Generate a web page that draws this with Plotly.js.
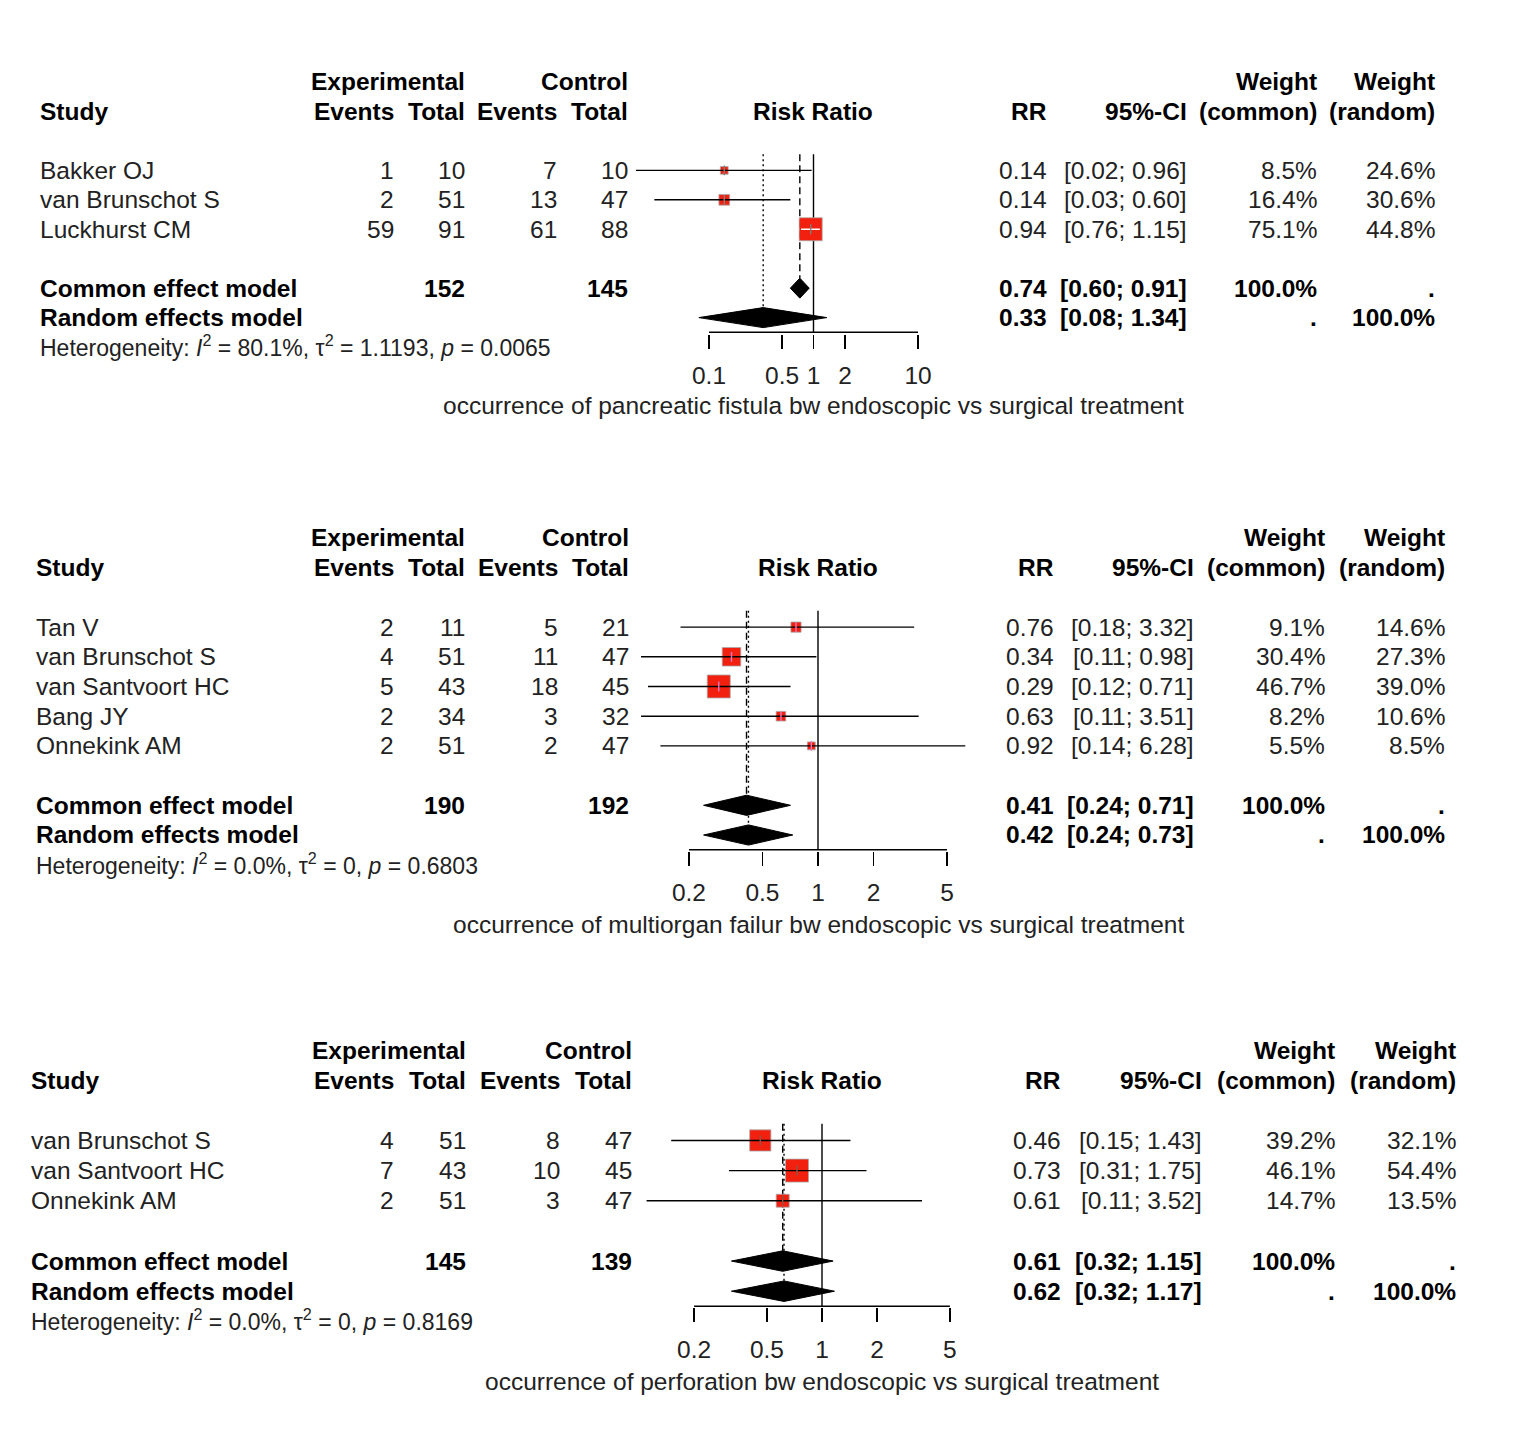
<!DOCTYPE html>
<html>
<head>
<meta charset="utf-8">
<script src="https://cdn.plot.ly/plotly-3.0.1.min.js"></script>
<style>
html,body{margin:0;padding:0;background:#fff;}
#chart{width:1519px;height:1444px;}
</style>
</head>
<body>
<div id="chart"></div>
<script>
// ---------------- DATA ----------------
// Panel 1: pancreatic fistula
const p1Studies = ['Bakker OJ', 'van Brunschot S', 'Luckhurst CM'];
const p1ExpEvents = [1, 2, 59];
const p1ExpTotal = [10, 51, 91];
const p1CtrlEvents = [7, 13, 61];
const p1CtrlTotal = [10, 47, 88];
const p1RR = [0.14, 0.14, 0.94];
const p1Lower = [0.02, 0.03, 0.76];
const p1Upper = [0.96, 0.60, 1.15];
const p1WCommon = [8.5, 16.4, 75.1];
const p1WRandom = [24.6, 30.6, 44.8];
const p1Common = [0.74, 0.60, 0.91];
const p1Random = [0.33, 0.08, 1.34];
const p1Totals = [152, 145];
const p1Het = [80.1, '1.1193', '0.0065'];
const p1Ticks = [0.1, 0.5, 1, 2, 10];
const p1TickText = ['0.1', '0.5', '1', '2', '10'];
const p1Title = 'occurrence of pancreatic fistula bw endoscopic vs surgical treatment';

// Panel 2: multiorgan failure
const p2Studies = ['Tan V', 'van Brunschot S', 'van Santvoort HC', 'Bang JY', 'Onnekink AM'];
const p2ExpEvents = [2, 4, 5, 2, 2];
const p2ExpTotal = [11, 51, 43, 34, 51];
const p2CtrlEvents = [5, 11, 18, 3, 2];
const p2CtrlTotal = [21, 47, 45, 32, 47];
const p2RR = [0.76, 0.34, 0.29, 0.63, 0.92];
const p2Lower = [0.18, 0.11, 0.12, 0.11, 0.14];
const p2Upper = [3.32, 0.98, 0.71, 3.51, 6.28];
const p2WCommon = [9.1, 30.4, 46.7, 8.2, 5.5];
const p2WRandom = [14.6, 27.3, 39.0, 10.6, 8.5];
const p2Common = [0.41, 0.24, 0.71];
const p2Random = [0.42, 0.24, 0.73];
const p2Totals = [190, 192];
const p2Het = [0.0, '0', '0.6803'];
const p2Ticks = [0.2, 0.5, 1, 2, 5];
const p2TickText = ['0.2', '0.5', '1', '2', '5'];
const p2Title = 'occurrence of multiorgan failur bw endoscopic vs surgical treatment';

// Panel 3: perforation
const p3Studies = ['van Brunschot S', 'van Santvoort HC', 'Onnekink AM'];
const p3ExpEvents = [4, 7, 2];
const p3ExpTotal = [51, 43, 51];
const p3CtrlEvents = [8, 10, 3];
const p3CtrlTotal = [47, 45, 47];
const p3RR = [0.46, 0.73, 0.61];
const p3Lower = [0.15, 0.31, 0.11];
const p3Upper = [1.43, 1.75, 3.52];
const p3WCommon = [39.2, 46.1, 14.7];
const p3WRandom = [32.1, 54.4, 13.5];
const p3Common = [0.61, 0.32, 1.15];
const p3Random = [0.62, 0.32, 1.17];
const p3Totals = [145, 139];
const p3Het = [0.0, '0', '0.8169'];
const p3Ticks = [0.2, 0.5, 1, 2, 5];
const p3TickText = ['0.2', '0.5', '1', '2', '5'];
const p3Title = 'occurrence of perforation bw endoscopic vs surgical treatment';

// ---------------- LAYOUT GEOMETRY ----------------
const W = 1519, H = 1444;
const FONT = 'Liberation Sans, Arial, Helvetica, sans-serif';
const FS = 24.5, FSB = 24.5, FSH = 23;
const REG = '#222222', BLK = '#000000';
const BOX_MAX = 23;   // px side of the largest square
const DIA_H = 0.34;   // diamond half height (rows)
const HALFW = 195;    // half width of the plot area (px)

const panels = [
  {studies: p1Studies, ee: p1ExpEvents, et: p1ExpTotal, ce: p1CtrlEvents, ct: p1CtrlTotal,
   rr: p1RR, lo: p1Lower, hi: p1Upper, wc: p1WCommon, wr: p1WRandom,
   common: p1Common, random: p1Random, totals: p1Totals, het: p1Het,
   ticks: p1Ticks, tickText: p1TickText, title: p1Title,
   g: {top: 82, rowh: 29.45, center: 813.5, ppd: 104.5,
       study: 39, ev1: 395, tot1: 466, ev2: 558, tot2: 629, rrc: 1048, ci: 1188, wcc: 1318, wrc: 1436}},
  {studies: p2Studies, ee: p2ExpEvents, et: p2ExpTotal, ce: p2CtrlEvents, ct: p2CtrlTotal,
   rr: p2RR, lo: p2Lower, hi: p2Upper, wc: p2WCommon, wr: p2WRandom,
   common: p2Common, random: p2Random, totals: p2Totals, het: p2Het,
   ticks: p2Ticks, tickText: p2TickText, title: p2Title,
   g: {top: 538, rowh: 29.7, center: 818, ppd: 184.6,
       study: 35, ev1: 395, tot1: 466, ev2: 559, tot2: 630, rrc: 1055, ci: 1195, wcc: 1326, wrc: 1446}},
  {studies: p3Studies, ee: p3ExpEvents, et: p3ExpTotal, ce: p3CtrlEvents, ct: p3CtrlTotal,
   rr: p3RR, lo: p3Lower, hi: p3Upper, wc: p3WCommon, wr: p3WRandom,
   common: p3Common, random: p3Random, totals: p3Totals, het: p3Het,
   ticks: p3Ticks, tickText: p3TickText, title: p3Title,
   g: {top: 1050, rowh: 30.15, center: 822, ppd: 183,
       study: 30, ev1: 395, tot1: 467, ev2: 561, tot2: 633, rrc: 1062, ci: 1203, wcc: 1336, wrc: 1457}}
];

const traces = [];
const annotations = [];
const layout = {
  width: W, height: H,
  margin: {l: 0, r: 0, t: 0, b: 0, pad: 0},
  paper_bgcolor: '#ffffff', plot_bgcolor: 'rgba(0,0,0,0)',
  showlegend: false,
  font: {family: FONT, size: FS, color: REG},
  annotations: annotations
};

const f2 = v => v.toFixed(2);
const ciText = (a, b) => '[' + f2(a) + '; ' + f2(b) + ']';

panels.forEach((P, i) => {
  const g = P.g;
  const sfx = i === 0 ? '' : String(i + 1);
  const xa = 'x' + sfx, ya = 'y' + sfx;
  const n = P.studies.length;
  const rows = P.studies.map((_, k) => 3 + k);
  const rowC = n + 4, rowR = n + 5;
  const axisRow = rowR + 0.5;
  const eps = 1.2 / g.rowh;
  const topRow = -0.8;

  // axes
  const botPx = g.top + g.rowh * (axisRow + eps);
  const topPx = g.top + g.rowh * topRow;
  layout['yaxis' + sfx] = {
    domain: [1 - botPx / H, 1 - topPx / H],
    range: [axisRow + eps, topRow],
    visible: false, fixedrange: true, anchor: xa
  };
  layout['xaxis' + sfx] = {
    type: 'log',
    domain: [(g.center - HALFW) / W, (g.center + HALFW) / W],
    range: [-HALFW / g.ppd, HALFW / g.ppd],
    anchor: ya,
    tickmode: 'array', tickvals: P.ticks, ticktext: P.tickText,
    ticks: 'outside', ticklen: 14, tickwidth: 1.5, tickcolor: '#000',
    showline: false, showgrid: false, zeroline: false,
    tickfont: {family: FONT, size: FS, color: REG},
    ticklabelstandoff: 6,
    fixedrange: true
  };

  const base = {xaxis: xa, yaxis: ya, hoverinfo: 'skip', showlegend: false};
  const refTop = 2.45;

  // reference lines
  traces.push(Object.assign({}, base, {
    type: 'scatter', mode: 'lines', x: [1, 1], y: [refTop, axisRow],
    line: {color: '#000', width: 1.4}
  }));
  traces.push(Object.assign({}, base, {
    type: 'scatter', mode: 'lines', x: [P.common[0], P.common[0]], y: [refTop, rowC - DIA_H],
    line: {color: '#000', width: 1.4, dash: '7px,4px'}
  }));
  traces.push(Object.assign({}, base, {
    type: 'scatter', mode: 'lines', x: [P.random[0], P.random[0]], y: [refTop, rowR - DIA_H],
    line: {color: '#000', width: 1.4, dash: '2px,3px'}
  }));
  // axis line between first and last tick
  traces.push(Object.assign({}, base, {
    type: 'scatter', mode: 'lines',
    x: [P.ticks[0], P.ticks[P.ticks.length - 1]], y: [axisRow, axisRow],
    line: {color: '#000', width: 1.5}
  }));

  // squares
  const wmax = Math.max.apply(null, P.wc);
  const sizes = P.wc.map(w => BOX_MAX * Math.sqrt(w / wmax));
  traces.push(Object.assign({}, base, {
    type: 'scatter', mode: 'markers', x: P.rr, y: rows,
    marker: {symbol: 'square', size: sizes, color: '#f2200f', opacity: 1,
             line: {color: 'rgba(170,170,170,0.8)', width: 1}}
  }));

  // CI lines: white when CI fits inside the square
  const inside = P.rr.map((e, k) => {
    const half = sizes[k] / 2;
    const l = g.ppd * (Math.log10(e) - Math.log10(P.lo[k]));
    const u = g.ppd * (Math.log10(P.hi[k]) - Math.log10(e));
    return l < half && u < half;
  });
  ['#000000', '#ffffff'].forEach((col, ci) => {
    const xs = [], ys = [];
    P.rr.forEach((e, k) => {
      if (inside[k] === (ci === 1)) {
        xs.push(P.lo[k], P.hi[k], null);
        ys.push(rows[k], rows[k], null);
      }
    });
    if (xs.length) {
      traces.push(Object.assign({}, base, {
        type: 'scatter', mode: 'lines', x: xs, y: ys,
        line: {color: col, width: 1.4}, connectgaps: false
      }));
    }
  });
  // small vertical tick at estimate
  traces.push(Object.assign({}, base, {
    type: 'scatter', mode: 'markers', x: P.rr, y: rows,
    marker: {symbol: 'line-ns-open', size: 7, opacity: 1,
             line: {color: inside.map(v => v ? '#ffffff' : '#000000'), width: 1.4}}
  }));

  // diamonds
  [[P.common, rowC], [P.random, rowR]].forEach(([m, r]) => {
    traces.push(Object.assign({}, base, {
      type: 'scatter', mode: 'lines', fill: 'toself', fillcolor: '#000',
      x: [m[1], m[0], m[2], m[0], m[1]],
      y: [r, r - DIA_H, r, r + DIA_H, r],
      line: {color: '#000', width: 1}
    }));
  });

  // ---- text table ----
  const ann = (text, xpx, row, anchor, bold, extra) => {
    annotations.push(Object.assign({
      text: bold ? '<b>' + text + '</b>' : text,
      xref: 'paper', yref: ya, x: xpx / W, y: row,
      xanchor: anchor, yanchor: 'middle', showarrow: false,
      font: {family: FONT, size: bold ? FSB : FS, color: bold ? BLK : REG},
      borderpad: 0
    }, extra || {}));
  };
  // headers
  ann('Experimental', g.tot1, 0, 'right', true);
  ann('Control', g.tot2, 0, 'right', true);
  ann('Weight', g.wcc, 0, 'right', true);
  ann('Weight', g.wrc, 0, 'right', true);
  ann('Study', g.study, 1, 'left', true);
  ann('Events', g.ev1, 1, 'right', true);
  ann('Total', g.tot1, 1, 'right', true);
  ann('Events', g.ev2, 1, 'right', true);
  ann('Total', g.tot2, 1, 'right', true);
  ann('Risk Ratio', g.center, 1, 'center', true);
  ann('RR', g.rrc, 1, 'right', true);
  ann('95%-CI', g.ci, 1, 'right', true);
  ann('(common)', g.wcc, 1, 'right', true);
  ann('(random)', g.wrc, 1, 'right', true);

  // study rows
  P.studies.forEach((s, k) => {
    const r = rows[k];
    ann(s, g.study, r, 'left', false);
    ann(String(P.ee[k]), g.ev1, r, 'right', false);
    ann(String(P.et[k]), g.tot1, r, 'right', false);
    ann(String(P.ce[k]), g.ev2, r, 'right', false);
    ann(String(P.ct[k]), g.tot2, r, 'right', false);
    ann(f2(P.rr[k]), g.rrc, r, 'right', false);
    ann(ciText(P.lo[k], P.hi[k]), g.ci, r, 'right', false);
    ann(P.wc[k].toFixed(1) + '%', g.wcc, r, 'right', false);
    ann(P.wr[k].toFixed(1) + '%', g.wrc, r, 'right', false);
  });

  // pooled rows
  ann('Common effect model', g.study, rowC, 'left', true);
  ann(String(P.totals[0]), g.tot1, rowC, 'right', true);
  ann(String(P.totals[1]), g.tot2, rowC, 'right', true);
  ann(f2(P.common[0]), g.rrc, rowC, 'right', true);
  ann(ciText(P.common[1], P.common[2]), g.ci, rowC, 'right', true);
  ann('100.0%', g.wcc, rowC, 'right', true);
  ann('.', g.wrc, rowC, 'right', true);

  ann('Random effects model', g.study, rowR, 'left', true);
  ann(f2(P.random[0]), g.rrc, rowR, 'right', true);
  ann(ciText(P.random[1], P.random[2]), g.ci, rowR, 'right', true);
  ann('.', g.wcc, rowR, 'right', true);
  ann('100.0%', g.wrc, rowR, 'right', true);

  // heterogeneity (one row below random row)
  const hetText = 'Heterogeneity: <i>I</i><sup>2</sup> = ' + P.het[0].toFixed(1) + '%, \u03c4<sup>2</sup> = ' +
                  P.het[1] + ', <i>p</i> = ' + P.het[2];
  ann(hetText, g.study, rowR, 'left', false, {yshift: -g.rowh + 1, font: {family: FONT, size: FSH, color: REG}});

  // x-axis title (three rows below random row)
  ann(P.title, g.center, rowR, 'center', false, {yshift: -3 * g.rowh});
});

Plotly.newPlot('chart', traces, layout, {staticPlot: true, displayModeBar: false});
</script>
</body>
</html>
